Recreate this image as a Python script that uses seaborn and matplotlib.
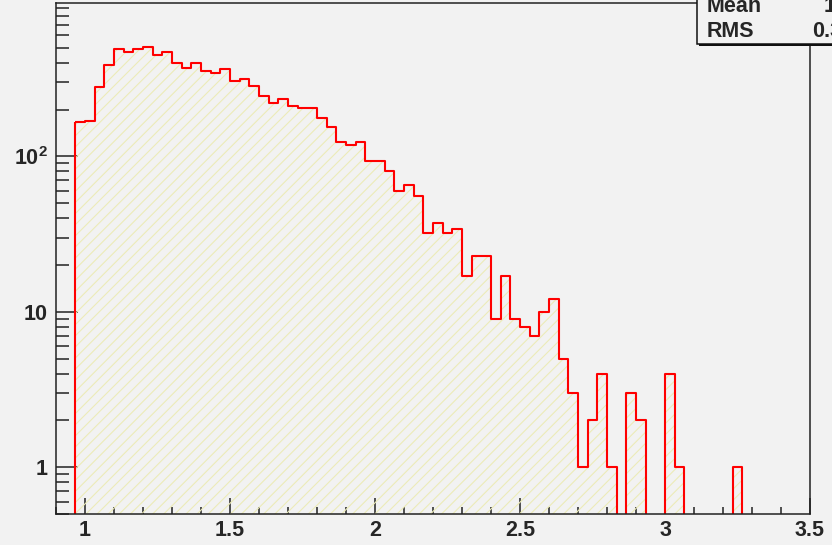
import numpy as np
import pandas as pd
import matplotlib
matplotlib.use("Agg")
import matplotlib.pyplot as plt
from matplotlib.patches import Rectangle
from matplotlib.ticker import FixedLocator, MultipleLocator, LogLocator, NullFormatter
import seaborn as sns

# Entries per bin, bins of width 1/30 starting at 29/30
counts = [166, 170, 278, 389, 493, 472, 493, 508, 451, 472,
          400, 371, 398, 352, 345, 363, 307, 313, 283, 244,
          222, 234, 212, 204, 204, 176, 155, 124, 119, 124,
          93, 93, 80, 60, 65, 56, 32, 37, 32, 34,
          17, 23, 23, 9, 17, 9, 8, 7, 10, 12,
          5, 3, 1, 2, 4, 1, 0, 3, 2, 0,
          0, 4, 1, 0, 0, 0, 0, 0, 1]
first_edge = 29 / 30
bin_width = 1 / 30

x_ticks = [1.0, 1.5, 2.0, 2.5, 3.0, 3.5]
x_tick_labels = ["1", "1.5", "2", "2.5", "3", "3.5"]
y_ticks = [1, 10, 100]
y_tick_labels = ["1", "10", r"$\mathbf{10^{2}}$"]
stat_names = ["Mean", "RMS"]

edges = first_edge + bin_width * np.arange(len(counts) + 1)
centres = 0.5 * (edges[:-1] + edges[1:])
df = pd.DataFrame({"x": centres, "n": np.asarray(counts, dtype=float)})

mean = np.average(df["x"], weights=df["n"])
rms = np.sqrt(np.average((df["x"] - mean) ** 2, weights=df["n"]))
stat_values = [f"{mean:.4g}", f"{rms:.4g}"]

sns.set_style("ticks")
bg = "#f2f2f2"
hatch_col = "#ecebb8"
fs = 15.5
plt.rcParams.update({
    "font.family": ["Liberation Sans", "DejaVu Sans"],
    "font.weight": "bold",
    "mathtext.fontset": "custom",
    "mathtext.rm": "Liberation Sans:bold",
    "mathtext.bf": "Liberation Sans:bold",
    "hatch.color": hatch_col,
    "hatch.linewidth": 0.8,
})

W, H = 832, 545
fig = plt.figure(figsize=(W / 100, H / 100), dpi=100, facecolor=bg)
ax = fig.add_axes([56 / W, 31 / H, 754 / W, 511 / H])
ax.set_facecolor(bg)
ax.set_yscale("log")

bin_list = edges.tolist()
# hatched body of the histogram
sns.histplot(data=df, x="x", weights="n", bins=bin_list, element="step",
             fill=True, color=hatch_col, facecolor="none",
             edgecolor=hatch_col, hatch="///", linewidth=0, ax=ax)
# red outline
sns.histplot(data=df, x="x", weights="n", bins=bin_list, element="step",
             fill=True, color="#ff0000", facecolor="none",
             edgecolor="#ff0000", linewidth=1.5, ax=ax)

ax.set_xlim(0.9, 3.5)
ax.set_ylim(0.5, 970)
ax.set_xlabel("")
ax.set_ylabel("")

ax.xaxis.set_major_locator(FixedLocator(x_ticks))
ax.set_xticklabels(x_tick_labels)
ax.xaxis.set_minor_locator(MultipleLocator(0.1))
ax.yaxis.set_major_locator(FixedLocator(y_ticks))
ax.set_yticklabels(y_tick_labels)
ax.yaxis.set_minor_locator(LogLocator(base=10, subs=np.arange(2, 10)))
ax.yaxis.set_minor_formatter(NullFormatter())

ax.tick_params(axis="both", which="both", direction="in", color="#222222",
               width=1.1, labelsize=fs, top=False, right=False)
ax.tick_params(axis="x", which="major", length=11.5, pad=4.5)
ax.tick_params(axis="x", which="minor", length=5)
ax.tick_params(axis="y", which="major", length=16, pad=6)
ax.tick_params(axis="y", which="minor", length=9.5)
for lab in ax.get_xticklabels() + ax.get_yticklabels():
    lab.set_fontweight("bold")

for sp in ax.spines.values():
    sp.set_visible(True)
    sp.set_color("#222222")
    sp.set_linewidth(1.1)

# statistics box in the upper-right corner
bx, by = 697 / W, (H - 44) / H
fig.add_artist(Rectangle((bx + 2 / W, by - 2 / H), 0.5, 0.5,
                         transform=fig.transFigure, facecolor="#111111",
                         edgecolor="none", zorder=5))
fig.add_artist(Rectangle((bx, by), 0.5, 0.5, transform=fig.transFigure,
                         facecolor=bg, edgecolor="#111111", linewidth=1.1,
                         zorder=6))
for i, (name, val) in enumerate(zip(stat_names, stat_values)):
    yb = (H - 11.7 - 25.5 * i) / H
    fig.text(707 / W, yb, name, fontsize=fs, fontweight="bold",
             va="baseline", ha="left", zorder=7)
    fig.text(878 / W, yb, val, fontsize=fs, fontweight="bold",
             va="baseline", ha="right", zorder=7)

fig.savefig("out.png", dpi=100, facecolor=bg)
